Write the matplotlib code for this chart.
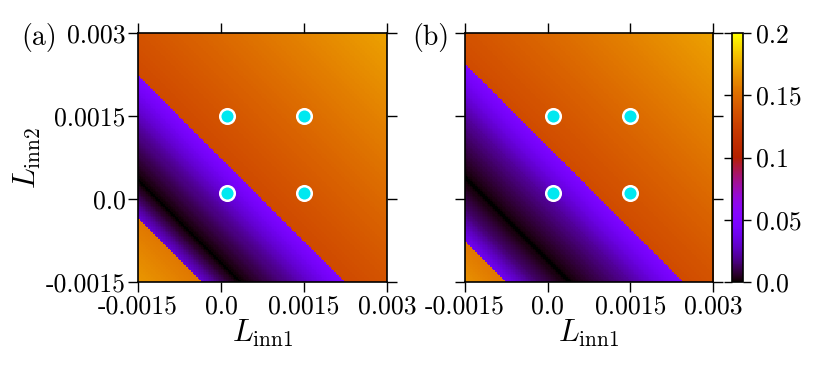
import numpy as np
import matplotlib
matplotlib.use('Agg')
import matplotlib.pyplot as plt

plt.rcParams['font.family'] = 'cmr10'
plt.rcParams['mathtext.fontset'] = 'cm'
plt.rcParams['axes.unicode_minus'] = False

# Profiles of the plotted quantity along s = L_inn1 + L_inn2 (s in units of 1e-3)
S_A = [-3.0, -1.85, -1.84, -1.50, -1.35, -1.16, -0.90, -0.62, -0.20, 0.30, 0.72, 0.73, 6.0]
V_A = [0.168, 0.155, 0.032, 0.013, 0.006, 0.0, 0.005, 0.011, 0.021, 0.036, 0.050, 0.132, 0.172]
S_B = [-3.0, -2.27, -2.26, -1.75, -1.40, -1.12, -0.85, -0.50, 0.00, 0.50, 0.94, 0.95, 6.0]
V_B = [0.166, 0.155, 0.040, 0.016, 0.006, 0.0, 0.005, 0.011, 0.021, 0.036, 0.050, 0.133, 0.172]

# Marked points
PX = [0.0001, 0.0015, 0.0001, 0.0015]
PY = [0.0015, 0.0015, 0.0001, 0.0001]

ticks = [-0.0015, 0.0, 0.0015, 0.003]
tick_labels = ['-0.0015', '0.0', '0.0015', '0.003']
cb_ticks = [0.0, 0.05, 0.1, 0.15, 0.2]
cb_labels = ['0.0', '0.05', '0.1', '0.15', '0.2']

lo, hi = -0.0015, 0.003
N = 150
c = lo + (np.arange(N) + 0.5) * (hi - lo) / N
X, Y = np.meshgrid(c, c)

W, H = 830, 369
fig = plt.figure(figsize=(W / 100, H / 100), dpi=100)
TS = 18.5
LS = 22

def panel(rect, S, V, ylab):
    ax = fig.add_axes(rect)
    Z = np.interp((X + Y) * 1e3, S, V)
    im = ax.imshow(Z, origin='lower', extent=[lo, hi, lo, hi], aspect='auto',
                   cmap='gnuplot', vmin=0, vmax=0.2, interpolation='nearest')
    ax.scatter(PX, PY, s=110, c='#00e8f0', edgecolors='white', linewidths=1.8, zorder=3)
    ax.set_xlim(lo, hi)
    ax.set_ylim(lo, hi)
    ax.set_xticks(ticks)
    ax.set_xticklabels(tick_labels, fontsize=TS)
    ax.set_yticks(ticks)
    if ylab:
        ax.set_yticklabels(tick_labels, fontsize=TS)
        ax.set_ylabel(r'$L_{\rm inn2}$', fontsize=LS, labelpad=2)
    else:
        ax.set_yticklabels([])
    ax.set_xlabel(r'$L_{\rm inn1}$', fontsize=LS, labelpad=0)
    ax.tick_params(direction='out', top=True, right=True, length=7, width=1.0, pad=2)
    for sp in ax.spines.values():
        sp.set_linewidth(1.2)
    return ax, im

axA, im = panel([138 / W, 87 / H, 249 / W, 249 / H], S_A, V_A, True)
axB, _ = panel([465 / W, 87 / H, 248 / W, 249 / H], S_B, V_B, False)

fig.text(21 / W, 1 - 23 / H, '(a)', fontsize=20, va='top', ha='left')
fig.text(412 / W, 1 - 23 / H, '(b)', fontsize=20, va='top', ha='left')

cax = fig.add_axes([732 / W, 87 / H, 11 / W, 249 / H])
cb = fig.colorbar(im, cax=cax, ticks=cb_ticks)
cb.set_ticklabels(cb_labels)
cax.tick_params(direction='out', left=True, right=True, length=6, width=1.0, labelsize=TS, pad=3)
cb.outline.set_linewidth(1.2)

fig.savefig('out.png', dpi=100)
